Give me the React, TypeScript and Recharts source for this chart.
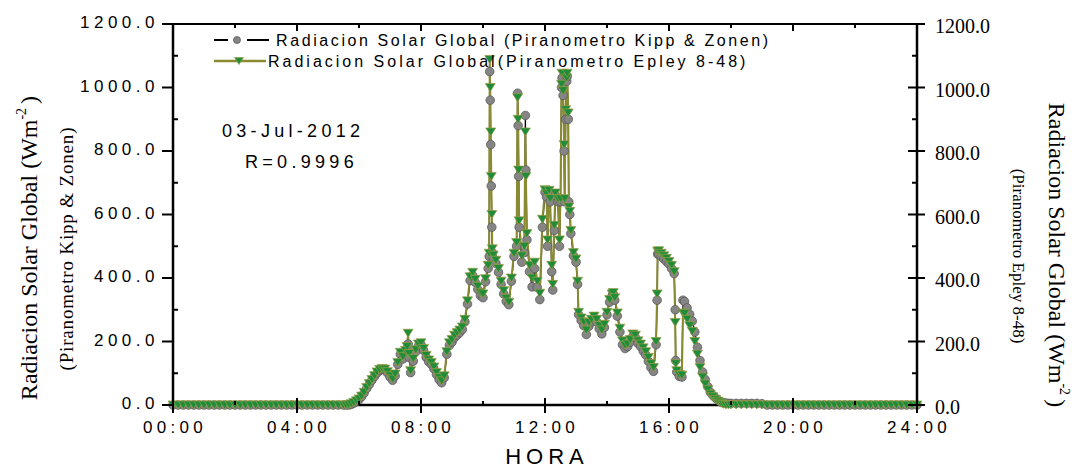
import { LineChart, Line, XAxis, YAxis, Legend } from 'recharts';

// hora local (HH:MM): noche cada 10 min, dia cada 5 min con detalle en los picos
const horas: string[] = [
  '00:00', '00:10', '00:20', '00:30', '00:40', '00:50',
  '01:00', '01:10', '01:20', '01:30', '01:40', '01:50',
  '02:00', '02:10', '02:20', '02:30', '02:40', '02:50',
  '03:00', '03:10', '03:20', '03:30', '03:40', '03:50',
  '04:00', '04:10', '04:20', '04:30', '04:40', '04:50',
  '05:00', '05:10', '05:20',
  '05:30', '05:35', '05:40', '05:45', '05:50', '05:55', '06:00', '06:05', '06:10', '06:15',
  '06:20', '06:25', '06:30', '06:35', '06:40', '06:45', '06:50', '06:55', '07:00', '07:05',
  '07:10', '07:15', '07:20', '07:25', '07:30', '07:33', '07:35', '07:37', '07:40', '07:45',
  '07:50', '07:55', '08:00', '08:05', '08:10', '08:15', '08:20', '08:25', '08:30', '08:35',
  '08:40', '08:45', '08:50', '08:55', '09:00', '09:05', '09:10', '09:15', '09:20', '09:25',
  '09:30', '09:35', '09:40', '09:45', '09:50', '09:55', '10:00', '10:05', '10:10', '10:12',
  '10:13', '10:14', '10:15', '10:16', '10:17', '10:18', '10:20', '10:25', '10:30', '10:35',
  '10:40', '10:45', '10:50', '10:55', '11:00', '11:05', '11:07', '11:08', '11:09', '11:10',
  '11:15', '11:20', '11:22', '11:23', '11:25', '11:30', '11:35', '11:40', '11:45', '11:50',
  '11:55', '12:00', '12:03', '12:05', '12:08', '12:10', '12:13', '12:15', '12:18', '12:20',
  '12:25', '12:28', '12:30', '12:32', '12:33', '12:35', '12:37', '12:38', '12:40', '12:42',
  '12:43', '12:45', '12:46', '12:48', '12:50', '12:55', '13:00', '13:03', '13:05', '13:10',
  '13:15', '13:20', '13:25', '13:30', '13:35', '13:40', '13:45', '13:50', '13:55', '14:00',
  '14:05', '14:10', '14:12', '14:15', '14:20', '14:25', '14:30', '14:35', '14:40', '14:45',
  '14:50', '14:55', '15:00', '15:05', '15:10', '15:15', '15:20', '15:25', '15:30', '15:35',
  '15:37', '15:38', '15:40', '15:45', '15:50', '15:55', '16:00', '16:05', '16:10', '16:12',
  '16:13', '16:15', '16:20', '16:25', '16:27', '16:30', '16:35', '16:40', '16:45', '16:50',
  '16:55', '17:00', '17:05', '17:10', '17:15', '17:20', '17:25', '17:30', '17:35', '17:40',
  '17:45', '17:50', '17:55', '18:00',
  '18:10', '18:20', '18:30', '18:40', '18:50',
  '19:00', '19:10', '19:20', '19:30', '19:40', '19:50',
  '20:00', '20:10', '20:20', '20:30', '20:40', '20:50',
  '21:00', '21:10', '21:20', '21:30', '21:40', '21:50',
  '22:00', '22:10', '22:20', '22:30', '22:40', '22:50',
  '23:00', '23:10', '23:20', '23:30', '23:40', '23:50',
  '24:00',
];

// Piranometro Kipp & Zonen (W/m2)
const kippZonen: number[] = [
  0, 0, 0, 0, 0, 0,
  0, 0, 0, 0, 0, 0,
  0, 0, 0, 0, 0, 0,
  0, 0, 0, 0, 0, 0,
  0, 0, 0, 0, 0, 0,
  0, 0, 0,
  0, 0, 0, 2, 6, 11, 17, 26, 38, 52,
  65, 78, 90, 101, 109, 112, 110, 101, 88, 78,
  92, 128, 160, 145, 166, 178, 192, 150, 102, 138,
  168, 186, 190, 172, 150, 136, 128, 114, 96, 80,
  70, 86, 160, 188, 198, 212, 220, 228, 238, 262,
  318, 392, 408, 386, 364, 344, 338, 388, 430, 468,
  1050, 960, 820, 690, 560, 480, 462, 446, 418, 380,
  350, 326, 316, 390, 468, 500, 982, 880, 720, 560,
  450, 480, 912, 740, 520, 420, 372, 430, 370, 332,
  560, 670, 655, 500, 668, 640, 420, 362, 550, 660,
  640, 500, 640, 1000, 1030, 975, 800, 640, 900, 1020,
  1035, 900, 640, 600, 540, 470, 450, 380, 285, 266,
  250, 222, 248, 262, 272, 262, 240, 224, 244, 284,
  324, 344, 350, 330, 280, 230, 190, 178, 184, 198,
  216, 212, 194, 184, 170, 158, 138, 118, 106, 190,
  330, 476, 474, 468, 460, 452, 444, 430, 414, 300,
  140, 104, 90, 88, 330, 326, 306, 286, 264, 230,
  182, 140, 104, 80, 58, 40, 30, 22, 15, 10,
  7, 6, 5, 5,
  5, 5, 5, 5, 5,
  4, 0, 0, 0, 0, 0,
  0, 0, 0, 0, 0, 0,
  0, 0, 0, 0, 0, 0,
  0, 0, 0, 0, 0, 0,
  0, 0, 0, 0, 0, 0,
  0,
];

// Piranometro Epley 8-48 (W/m2)
const epley848: number[] = [
  0, 0, 0, 0, 0, 0,
  0, 0, 0, 0, 0, 0,
  0, 0, 0, 0, 0, 0,
  0, 0, 0, 0, 0, 0,
  0, 0, 0, 0, 0, 0,
  0, 0, 0,
  0, 0, 1, 4, 8, 13, 19, 28, 40, 55,
  68, 80, 92, 104, 112, 115, 113, 105, 92, 82,
  98, 134, 166, 152, 172, 184, 226, 162, 108, 146,
  174, 192, 196, 178, 156, 142, 134, 120, 102, 86,
  76, 92, 168, 196, 206, 220, 228, 236, 246, 270,
  328, 404, 418, 396, 374, 354, 350, 398, 440, 478,
  1088, 1000, 860, 720, 600, 492, 472, 456, 430, 390,
  360, 336, 324, 400, 478, 512, 968, 900, 740, 580,
  470, 500, 860, 720, 540, 440, 400, 450, 390, 352,
  585, 678, 665, 520, 676, 650, 440, 380, 566, 668,
  650, 520, 650, 1010, 1045, 990, 820, 650, 930, 1030,
  1045, 920, 624, 610, 550, 480, 460, 390, 292, 274,
  262, 236, 260, 270, 280, 270, 250, 236, 254, 292,
  332, 350, 354, 338, 290, 242, 202, 188, 192, 206,
  224, 220, 202, 192, 180, 168, 150, 130, 118, 200,
  350, 484, 486, 478, 470, 462, 452, 440, 420, 260,
  130, 108, 96, 94, 290, 288, 270, 250, 232, 200,
  160, 118, 88, 66, 48, 34, 26, 18, 12, 6,
  2, 0, 0, 0,
  0, 0, 0, 0, 0,
  0, 0, 0, 0, 0, 0,
  0, 0, 0, 0, 0, 0,
  0, 0, 0, 0, 0, 0,
  0, 0, 0, 0, 0, 0,
  0, 0, 0, 0, 0, 0,
  0,
];

const horaTicks = [0, 2, 4, 6, 8, 10, 12, 14, 16, 18, 20, 22, 24];
const radTicks = [0, 100, 200, 300, 400, 500, 600, 700, 800, 900, 1000, 1100, 1200];

const SANS = "'Liberation Sans', Arial, sans-serif";
const SERIF = "'Liberation Serif', 'Times New Roman', serif";
const OLIVE = '#8a8a32';
const GREEN = '#1f8c3a';

const toHours = (t: string) => {
  const [hh, mm] = t.split(':').map(Number);
  return hh + mm / 60;
};

const data = horas.map((t, i) => ({
  hora: toHours(t),
  kipp: kippZonen[i],
  epley: epley848[i],
}));

const fmtHora = (v: number) => `${String(v).padStart(2, '0')}:00`;

const BottomTick = ({ x, y, payload }: any) => {
  const v = payload.value as number;
  const major = v % 4 === 0;
  return (
    <g>
      <line x1={x} x2={x} y1={y - (major ? 7 : 4)} y2={major ? y + 8 : y} stroke="#000" strokeWidth={2} />
      {major && (
        <text x={x + 2} y={y + 28} textAnchor="middle" fontFamily={SANS} fontSize={17} fill="#000"
          style={{ letterSpacing: '4.3px' }}>
          {fmtHora(v)}
        </text>
      )}
    </g>
  );
};

const TopTick = ({ x, y, payload }: any) => {
  const major = (payload.value as number) % 4 === 0;
  return <line x1={x} x2={x} y1={y} y2={y + (major ? 7 : 4)} stroke="#000" strokeWidth={2} />;
};

const LeftTick = ({ x, y, payload }: any) => {
  const v = payload.value as number;
  const major = v % 200 === 0;
  return (
    <g>
      <line x1={major ? x - 11 : x} x2={major ? x : x + 5} y1={y} y2={y} stroke="#000" strokeWidth={2} />
      {major && (
        <text x={x - 14} y={y + 4} textAnchor="end" fontFamily={SANS} fontSize={17} fill="#000"
          style={{ letterSpacing: '4.5px' }}>
          {v.toFixed(1)}
        </text>
      )}
    </g>
  );
};

const RightTick = ({ x, y, payload }: any) => {
  const v = payload.value as number;
  const major = v % 200 === 0;
  return (
    <g>
      <line x1={major ? x - 9 : x - 5} x2={major ? x + 8 : x} y1={y} y2={y} stroke="#000" strokeWidth={2} />
      {major && (
        <text x={x + 18} y={y + 9} textAnchor="start" fontFamily={SERIF} fontSize={20} fill="#000">
          {v.toFixed(1)}
        </text>
      )}
    </g>
  );
};

const renderCircle = (props: any) => {
  const { cx, cy, index } = props;
  if (cx == null || cy == null) return <g key={`c-${index}`} />;
  return <circle key={`c-${index}`} cx={cx} cy={cy} r={4.3} fill="#858585" stroke="#5a5a5a" strokeWidth={0.8} />;
};

const renderTriangle = (props: any) => {
  const { cx, cy, index } = props;
  if (cx == null || cy == null) return <g key={`t-${index}`} />;
  const w = 5;
  const h = 4;
  return (
    <path key={`t-${index}`} d={`M${cx - w},${cy - h} L${cx + w},${cy - h} L${cx},${cy + h} Z`}
      fill={GREEN} stroke="#9c9c44" strokeWidth={0.7} />
  );
};

const renderLegend = () => (
  <svg width={800} height={80}>
    <line x1={214} x2={228} y1={40} y2={40} stroke="#000" strokeWidth={2} />
    <circle cx={237} cy={40} r={3.5} fill="#858585" stroke="#5a5a5a" strokeWidth={0.8} />
    <line x1={247} x2={269} y1={40} y2={40} stroke="#000" strokeWidth={2} />
    <text x={276} y={46} fontFamily={SANS} fontSize={16} fill="#000" style={{ letterSpacing: '2.6px' }}>
      {'Radiacion Solar Global (Piranometro Kipp & Zonen)'}
    </text>
    <line x1={214} x2={266} y1={61} y2={61} stroke={OLIVE} strokeWidth={2.5} />
    <path d="M234.5,57.5 L243.5,57.5 L239,64.5 Z" fill={GREEN} stroke="#9c9c44" strokeWidth={0.7} />
    <text x={268} y={67} fontFamily={SANS} fontSize={16} fill="#000" style={{ letterSpacing: '3px' }}>
      {'Radiacion Solar Global(Piranometro Epley 8-48)'}
    </text>
  </svg>
);

export default function App() {
  return (
    <div style={{ position: 'absolute', left: 0, top: 0, width: 1079, height: 468, background: '#fff' }}>
      <LineChart width={1079} height={468} data={data} margin={{ top: 22, right: 62, bottom: 23, left: 73 }}>
        <XAxis xAxisId="bottom" dataKey="hora" type="number" domain={[0, 24]} ticks={horaTicks}
          interval={0} height={40} tickSize={0} tickMargin={0} tickLine={false}
          axisLine={{ stroke: '#000', strokeWidth: 2.5 }} tick={BottomTick} />
        <XAxis xAxisId="top" orientation="top" dataKey="hora" type="number" domain={[0, 24]} ticks={horaTicks}
          interval={0} height={2} tickSize={0} tickMargin={0} tickLine={false}
          axisLine={{ stroke: '#000', strokeWidth: 2 }} tick={TopTick} />
        <YAxis yAxisId="left" type="number" domain={[0, 1200]} ticks={radTicks} interval={0} width={100}
          tickSize={0} tickMargin={0} tickLine={false} axisLine={{ stroke: '#000', strokeWidth: 2.5 }}
          tick={LeftTick} />
        <YAxis yAxisId="right" orientation="right" type="number" domain={[0, 1200]} ticks={radTicks}
          interval={0} width={100} tickSize={0} tickMargin={0} tickLine={false}
          axisLine={{ stroke: '#000', strokeWidth: 2.5 }} tick={RightTick} />
        <Legend content={renderLegend} layout="horizontal" verticalAlign="middle" align="center"
          wrapperStyle={{ left: 0, top: 0, width: 800, height: 80 }} />
        <Line xAxisId="bottom" yAxisId="left" dataKey="kipp" name="Kipp & Zonen" stroke="#000"
          strokeWidth={1.3} dot={renderCircle} activeDot={false} isAnimationActive={false} />
        <Line xAxisId="bottom" yAxisId="right" dataKey="epley" name="Epley 8-48" stroke={OLIVE}
          strokeWidth={2} dot={renderTriangle} activeDot={false} isAnimationActive={false} />
      </LineChart>
      <svg width={1079} height={468} style={{ position: 'absolute', left: 0, top: 0, pointerEvents: 'none' }}>
        <text x={37} y={248} transform="rotate(-90 37 248)" textAnchor="middle" fontFamily={SERIF} fontSize={24} fill="#000">
          Radiacion Solar Global (Wm
          <tspan fontSize={14} dy={-11}>-2</tspan>
          <tspan dy={11} dx={4}>)</tspan>
        </text>
        <text x={73} y={249} transform="rotate(-90 73 249)" textAnchor="middle" fontFamily={SERIF} fontSize={19}
          fill="#000" textLength={243} lengthAdjust="spacing">
          (Piranometro Kipp &amp; Zonen)
        </text>
        <text x={1049} y={255} transform="rotate(90 1049 255)" textAnchor="middle" fontFamily={SERIF} fontSize={24} fill="#000">
          Radiacion Solar Global (Wm
          <tspan fontSize={14} dy={-11}>-2</tspan>
          <tspan dy={11} dx={4}>)</tspan>
        </text>
        <text x={1013} y={256} transform="rotate(90 1013 256)" textAnchor="middle" fontFamily={SERIF} fontSize={17} fill="#000">
          (Piranometro Epley 8-48)
        </text>
        <text x={547} y={464} textAnchor="middle" fontFamily={SANS} fontSize={22} fill="#000" style={{ letterSpacing: '5px' }}>
          HORA
        </text>
        <text x={222} y={137} fontFamily={SANS} fontSize={18} fill="#000" style={{ letterSpacing: '4.3px' }}>
          03-Jul-2012
        </text>
        <text x={245} y={168} fontFamily={SANS} fontSize={18} fill="#000" style={{ letterSpacing: '4.3px' }}>
          R=0.9996
        </text>
      </svg>
    </div>
  );
}
